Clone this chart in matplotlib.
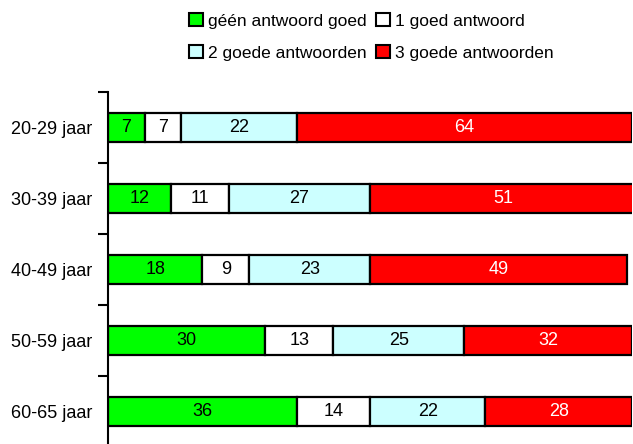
import matplotlib
matplotlib.use("Agg")
import matplotlib.pyplot as plt
from matplotlib.patches import Patch

plt.rcParams["font.family"] = ["Liberation Sans", "DejaVu Sans"]

categories = ["20-29 jaar", "30-39 jaar", "40-49 jaar", "50-59 jaar", "60-65 jaar"]
series_names = ["géén antwoord goed", "1 goed antwoord",
                "2 goede antwoorden", "3 goede antwoorden"]
geen_goed = [7, 12, 18, 30, 36]
een_goed = [7, 11, 9, 13, 14]
twee_goed = [22, 27, 23, 25, 22]
drie_goed = [64, 51, 49, 32, 28]
series = [geen_goed, een_goed, twee_goed, drie_goed]
colors = ["#00FF00", "#FFFFFF", "#CCFFFF", "#FF0000"]
text_colors = ["black", "black", "black", "white"]

W, H = 633, 444
fig = plt.figure(figsize=(W / 100, H / 100), dpi=100)
# axes in pixel coordinates: left 108, right 632, top 92, bottom 447
ax = fig.add_axes([108 / W, (H - 447) / H, (632 - 108) / W, (447 - 92) / H])

y = list(range(len(categories)))
left = [0] * len(categories)
for vals, col, tcol in zip(series, colors, text_colors):
    ax.barh(y, vals, left=left, height=0.41, color=col,
            edgecolor="black", linewidth=1.6)
    for yi, v, l in zip(y, vals, left):
        ax.text(l + v / 2, yi, str(v), ha="center", va="center",
                color=tcol, fontsize=13)
    left = [a + b for a, b in zip(left, vals)]

ax.set_xlim(0, 100)
ax.set_ylim(len(categories) - 0.5, -0.5)
ax.set_yticks(y)
ax.set_yticklabels(categories, fontsize=13)
ax.tick_params(axis="y", which="major", length=0, pad=11)
ax.set_yticks([i - 0.5 for i in range(len(categories) + 1)], minor=True)
ax.tick_params(axis="y", which="minor", length=7, width=1.5, direction="out")
ax.set_xticks([])
for s in ["top", "right", "bottom"]:
    ax.spines[s].set_visible(False)
ax.spines["left"].set_linewidth(1.5)

# legend filled row by row: two entries per row
order = [0, 2, 1, 3]
handles = [Patch(facecolor=colors[i], edgecolor="black", linewidth=1.5) for i in order]
labels = [series_names[i] for i in order]
fig.legend(handles, labels, loc="upper left", ncol=2,
           bbox_to_anchor=(176 / W, 1.0), frameon=False, fontsize=12.5,
           handlelength=0.8, handleheight=0.8, handletextpad=0.3,
           columnspacing=0.55, labelspacing=0.95, borderaxespad=0.35)

fig.savefig("out.png", dpi=100)
